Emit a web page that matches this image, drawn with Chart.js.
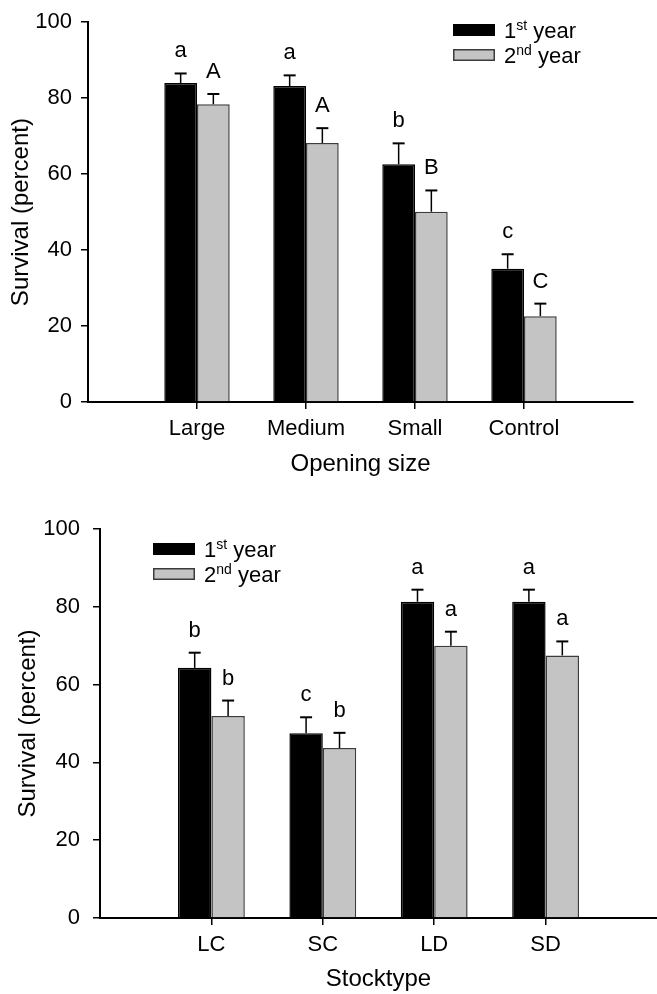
<!DOCTYPE html>
<html>
<head>
<meta charset="utf-8">
<script src="https://cdn.jsdelivr.net/npm/chart.js@4.4.1/dist/chart.umd.min.js"></script>
<style>
  html, body { margin: 0; padding: 0; background: #fff; }
  .panel { position: absolute; left: 0; width: 657px; height: 497px; }
  #top { top: 0; }
  #bottom { top: 497px; }
</style>
</head>
<body>
<div class="panel" id="top"><canvas id="chartOpening" width="657" height="497"></canvas></div>
<div class="panel" id="bottom"><canvas id="chartStock" width="657" height="497"></canvas></div>
<script>
// Painel superior: tamanho da abertura
const openingLabels = ['Large', 'Medium', 'Small', 'Control'];
const opening1st = [84.0, 83.2, 62.6, 35.1];
const opening2nd = [78.4, 68.2, 50.1, 22.6];
const opening1stErr = [2.5, 2.8, 5.5, 3.8];
const opening2ndErr = [2.7, 3.9, 5.6, 3.3];
const opening1stLetters = ['a', 'a', 'b', 'c'];
const opening2ndLetters = ['A', 'A', 'B', 'C'];

// Painel inferior: tipo de muda
const stockLabels = ['LC', 'SC', 'LD', 'SD'];
const stock1st = [64.3, 47.5, 81.3, 81.3];
const stock2nd = [51.9, 43.7, 70.0, 67.5];
const stock1stErr = [3.9, 4.1, 3.1, 3.1];
const stock2ndErr = [4.0, 3.9, 3.6, 3.6];
const stock1stLetters = ['b', 'c', 'a', 'a'];
const stock2ndLetters = ['b', 'b', 'a', 'a'];

const yTicks = [0, 20, 40, 60, 80, 100];
// legenda: [número, sobrescrito, resto]
const legendParts = [['1', 'st', ' year'], ['2', 'nd', ' year']];

const FONT = '"Liberation Sans", Arial, sans-serif';
const pad = (arr) => [null, ...arr, null];

const extrasPlugin = {
  id: 'extras',
  afterDatasetsDraw(chart) {
    const { ctx, scales: { y } } = chart;
    ctx.save();
    chart.data.datasets.forEach((ds, d) => {
      const meta = chart.getDatasetMeta(d);
      meta.data.forEach((el, i) => {
        const v = ds.data[i];
        if (v == null) return;
        const top = y.getPixelForValue(v + ds.errors[i]);
        ctx.strokeStyle = '#000';
        ctx.lineWidth = 1.5;
        ctx.beginPath(); ctx.moveTo(el.x, el.y); ctx.lineTo(el.x, top); ctx.stroke();
        ctx.lineWidth = 2;
        ctx.beginPath(); ctx.moveTo(el.x - 6, top); ctx.lineTo(el.x + 6, top); ctx.stroke();
        ctx.fillStyle = '#000';
        ctx.font = '22px ' + FONT;
        ctx.textAlign = 'center';
        ctx.textBaseline = 'alphabetic';
        ctx.fillText(ds.letters[i], el.x, top - 16);
      });
    });
    ctx.restore();
  },
  afterDraw(chart, args, opts) {
    const { ctx } = chart;
    ctx.save();
    chart.data.datasets.forEach((ds, d) => {
      const bx = opts.x;
      const by = opts.y + d * 25;
      ctx.fillStyle = ds.backgroundColor;
      ctx.fillRect(bx, by, 42, 12);
      ctx.strokeStyle = ds.borderColor;
      ctx.lineWidth = 1.5;
      ctx.strokeRect(bx + 0.75, by + 0.75, 40.5, 10.5);

      const [num, sup, rest] = legendParts[d];
      let tx = bx + 51;
      const base = by + 14;
      ctx.fillStyle = '#000';
      ctx.textAlign = 'left';
      ctx.textBaseline = 'alphabetic';
      ctx.font = '22px ' + FONT;
      ctx.fillText(num, tx, base);
      tx += ctx.measureText(num).width;
      ctx.font = '14px ' + FONT;
      ctx.fillText(sup, tx, base - 8);
      tx += ctx.measureText(sup).width;
      ctx.font = '22px ' + FONT;
      ctx.fillText(rest, tx, base);
    });
    ctx.restore();
  },
};

function buildChart(canvasId, cfg) {
  const ctx = document.getElementById(canvasId).getContext('2d');
  const hideEnds = (c) => (c.index > 0 && c.index < cfg.labels.length + 1) ? '#000' : 'rgba(0,0,0,0)';
  return new Chart(ctx, {
    type: 'bar',
    plugins: [extrasPlugin],
    data: {
      labels: ['', ...cfg.labels, ''],
      datasets: [
        {
          data: pad(cfg.first), errors: pad(cfg.firstErr), letters: pad(cfg.firstLetters),
          backgroundColor: '#000000', borderColor: '#000000', borderWidth: 1.5,
        },
        {
          data: pad(cfg.second), errors: pad(cfg.secondErr), letters: pad(cfg.secondLetters),
          backgroundColor: '#c4c4c4', borderColor: '#3c3c3c', borderWidth: 1.5,
        },
      ],
    },
    options: {
      responsive: false,
      animation: false,
      devicePixelRatio: 1,
      categoryPercentage: 0.6,
      barPercentage: 1.0,
      layout: { padding: cfg.padding },
      plugins: {
        legend: { display: false },
        tooltip: { enabled: false },
        extras: cfg.legend,
      },
      scales: {
        x: {
          offset: false,
          grid: { offset: false, drawOnChartArea: false, drawTicks: true, tickLength: 7, color: hideEnds, lineWidth: 1.5 },
          border: { color: '#000', width: 2 },
          ticks: { color: '#000', font: { family: FONT, size: 22 }, padding: 7, maxRotation: 0, autoSkip: false },
          title: { display: true, text: cfg.xTitle, color: '#000', font: { family: FONT, size: 24 }, padding: { top: 0, bottom: cfg.xTitlePad } },
          afterFit: (s) => { s.height = cfg.xHeight; s.paddingLeft = 0; s.paddingRight = 0; },
        },
        y: {
          min: 0, max: 100,
          afterBuildTicks: (s) => { s.ticks = yTicks.map((v) => ({ value: v })); },
          grid: { drawOnChartArea: false, drawTicks: true, tickLength: 7, color: '#000', lineWidth: 1.5 },
          border: { color: '#000', width: 2 },
          ticks: { color: '#000', font: { family: FONT, size: 22 }, padding: cfg.yTickPad },
          title: { display: true, text: 'Survival (percent)', color: '#000', font: { family: FONT, size: 24 }, padding: { top: cfg.yTitlePad, bottom: 0 } },
          afterFit: (s) => { s.width = cfg.yWidth; },
        },
      },
    },
  });
}

buildChart('chartOpening', {
  labels: openingLabels,
  first: opening1st, second: opening2nd,
  firstErr: opening1stErr, secondErr: opening2ndErr,
  firstLetters: opening1stLetters, secondLetters: opening2ndLetters,
  xTitle: 'Opening size',
  padding: { top: 21, right: 24, left: 0, bottom: 0 },
  xHeight: 95, xTitlePad: 18,
  yWidth: 88, yTickPad: 9, yTitlePad: 7,
  legend: { x: 453, y: 24 },
});

buildChart('chartStock', {
  labels: stockLabels,
  first: stock1st, second: stock2nd,
  firstErr: stock1stErr, secondErr: stock2ndErr,
  firstLetters: stock1stLetters, secondLetters: stock2ndLetters,
  xTitle: 'Stocktype',
  padding: { top: 32, right: 0, left: 0, bottom: 0 },
  xHeight: 76, xTitlePad: 0,
  yWidth: 100, yTickPad: 13, yTitlePad: 14,
  legend: { x: 153, y: 46 },
});
</script>
</body>
</html>
